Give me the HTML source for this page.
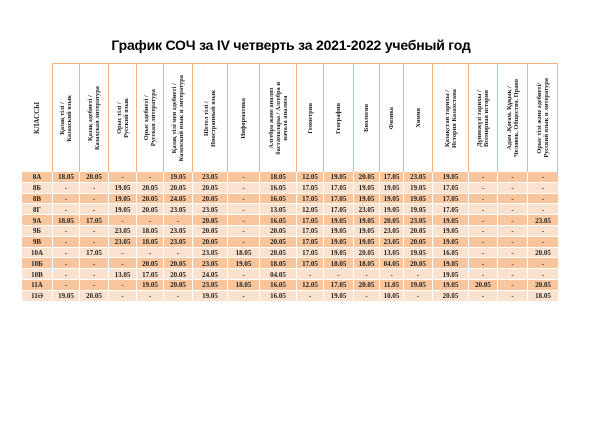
<!DOCTYPE html>
<html><head><meta charset="utf-8">
<style>
html,body{margin:0;padding:0;background:#fff;width:600px;height:424px;overflow:hidden;}
#title{position:absolute;left:0;top:37px;width:582px;text-align:center;font:bold 14px "Liberation Sans",sans-serif;color:#000;letter-spacing:-0.2px;}
#tbl{position:absolute;left:0;top:0;}
.cell{position:absolute;box-sizing:border-box;font:bold 7px "Liberation Serif",serif;color:#222;display:flex;align-items:center;justify-content:center;white-space:nowrap;}
.hd{border-left:1px solid #f4b183;border-top:1px solid #f4b183;}
.vt{writing-mode:vertical-rl;transform:rotate(180deg);text-align:center;line-height:8px;font:bold 6.4px "Liberation Serif",serif;white-space:nowrap;}
</style></head><body>
<div id="title">График СОЧ за IV четверть за 2021-2022 учебный год</div>
<div id="tbl"></div>
<script>
const subjects=["Қазақ тілі /|Казахский язык","Қазақ әдебиеті /|Казахская литература","Орыс тілі /|Русский язык","Орыс әдебиеті /|Русская литература","Қазақ тілі мен әдебиеті /|Казахский язык и литература","Шетел тілі /|Иностранный язык","Информатика","Алгебра және анализ|бастамалары / Алгебра и|начала анализа","Геометрия","География","Биология","Физика","Химия","Қазақстан тарихы /|История Казахстана","Дүниежүзі тарихы /|Всемирная история","Адам .Қоғам. Құқық /|Человек. Общество. Право","Орыс тілі және әдебиеті/|Русский язык и  литература"];
const classes=["8А","8Б","8В","8Г","9А","9Б","9В","10А","10Б","10В","11А","11Ә"];
const dates=[
["18.05","20.05","-","-","19.05","23.05","-","18.05","12.05","19.05","20.05","17.05","23.05","19.05","-","-","-"],
["-","-","19.05","20.05","20.05","20.05","-","16.05","17.05","17.05","19.05","19.05","19.05","17.05","-","-","-"],
["-","-","19.05","20.05","24.05","20.05","-","16.05","17.05","17.05","19.05","19.05","19.05","17.05","-","-","-"],
["-","-","19.05","20.05","23.05","23.05","-","13.05","12.05","17.05","23.05","19.05","19.05","17.05","-","-","-"],
["18.05","17.05","-","-","-","20.05","-","16.05","17.05","19.05","19.05","20.05","23.05","19.05","-","-","23.05"],
["-","-","23.05","18.05","23.05","20.05","-","20.05","17.05","19.05","19.05","23.05","20.05","19.05","-","-","-"],
["-","-","23.05","18.05","23.05","20.05","-","20.05","17.05","19.05","19.05","23.05","20.05","19.05","-","-","-"],
["-","17.05","-","-","-","23.05","18.05","20.05","17.05","19.05","20.05","13.05","19.05","16.05","-","-","20.05"],
["-","-","-","20.05","20.05","23.05","19.05","18.05","17.05","18.05","18.05","04.05","20.05","19.05","-","-","-"],
["-","-","13.05","17.05","20.05","24.05","-","04.05","-","-","-","-","-","19.05","-","-","-"],
["-","-","-","19.05","20.05","23.05","18.05","16.05","12.05","17.05","20.05","11.05","19.05","19.05","20.05","-","20.05"],
["19.05","20.05","-","-","-","19.05","-","16.05","-","19.05","-","10.05","-","20.05","-","-","18.05"]
];
const colX=[52,79,108,136,163,192,227,259,296,323,353,379,403,432,468,497,527,558];
const leftX=22, headTop=63, rowTop=172, rowH=10.8;
const tbl=document.getElementById('tbl');
function mk(x,y,w,h,cls,html,bg){const d=document.createElement('div');d.className='cell '+cls;d.style.left=x+'px';d.style.top=y+'px';d.style.width=w+'px';d.style.height=h+'px';if(bg)d.style.background=bg;d.innerHTML=html;tbl.appendChild(d);return d;}
const hc=mk(leftX,headTop,colX[0]-leftX,rowTop-headTop,'','<div class="vt" style="font-size:7px">КЛАССЫ</div>');


subjects.forEach((s,i)=>{
  const h=mk(colX[i],headTop,colX[i+1]-colX[i],rowTop-headTop,'hd','<div class="vt">'+s.split('|').join('<br>')+'</div>');
  if(i===subjects.length-1)h.style.borderRight='1px solid #f4b183';
  
  
});
classes.forEach((c,r)=>{
  const y=rowTop+r*rowH;
  const bg=r%2===0?'#f8c59c':'#fbe2cf';
  const row=mk(leftX,y,colX[colX.length-1]-leftX,rowH,'','',bg);
  row.style.borderBottom='1px solid #fff';
  
  
  const cc=mk(leftX,y,colX[0]-leftX,rowH,'',c);
  
  
  dates[r].forEach((v,i)=>{
    const d=mk(colX[i],y,colX[i+1]-colX[i],rowH,'',v);
    d.style.borderLeft='1px solid #fff';
    
    
  });
});
</script>
</body></html>
